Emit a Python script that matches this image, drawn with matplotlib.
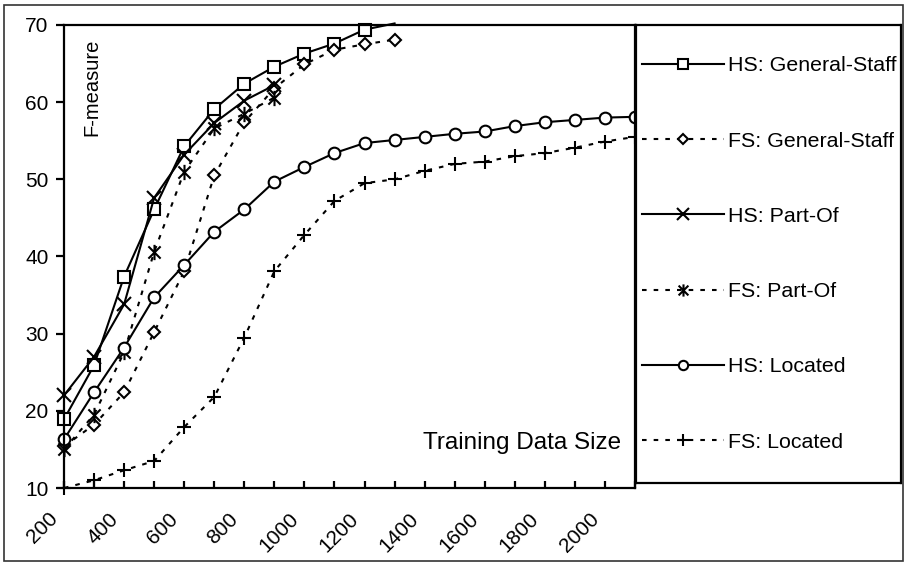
import matplotlib.pyplot as plt
import numpy as np
from matplotlib.path import Path
from matplotlib.patches import Rectangle
from matplotlib.transforms import ScaledTranslation

plt.rcParams['font.family'] = ['Liberation Sans', 'DejaVu Sans']

# training set sizes (x axis), one point every 100 examples
sizes = np.arange(200, 2200, 100)

hs_general_staff = [18.9, 25.9, 37.4, 46.1, 54.3, 59.1, 62.4, 64.6, 66.3, 67.6, 69.4, 70.2]
fs_general_staff = [15.4, 18.2, 22.4, 30.2, 38.1, 50.5, 57.4, 61.8, 64.9, 66.8, 67.5, 68.1]
hs_part_of = [22.0, 27.0, 33.8, 47.6, 53.2, 57.3, 60.2, 62.2]
fs_part_of = [15.0, 19.5, 27.6, 40.6, 51.0, 56.6, 58.5, 60.6]
hs_located = [16.3, 22.4, 28.2, 34.7, 38.9, 43.2, 46.1, 49.7, 51.6, 53.4,
              54.7, 55.1, 55.5, 55.9, 56.2, 56.9, 57.4, 57.7, 58.0, 58.1]
fs_located = [10.0, 11.0, 12.3, 13.5, 17.9, 21.8, 29.5, 38.1, 42.8, 47.2,
              49.5, 50.0, 51.1, 52.0, 52.3, 53.0, 53.4, 54.1, 54.9, 55.5]

labels = ['HS: General-Staff', 'FS: General-Staff', 'HS: Part-Of',
          'FS: Part-Of', 'HS: Located', 'FS: Located']

# asterisk marker: an x with a vertical bar through it
asterisk = Path([(-1, -1), (1, 1), (-1, 1), (1, -1), (0, -1.25), (0, 1.25)],
                [Path.MOVETO, Path.LINETO] * 3)

fig = plt.figure(figsize=(9.05, 5.63), dpi=100)
ax = fig.add_axes([64 / 905, 75 / 563, 571 / 905, 463 / 563])

solid = '-'
dotted = (0, (2.2, 3.4))
common = dict(color='black', lw=1.5, mew=1.5, mfc='white', clip_on=False)

n = len(hs_general_staff)
ax.plot(sizes[:n], hs_general_staff, ls=solid, marker='s', ms=9,
        markevery=list(range(n - 1)), label=labels[0], **common)
ax.plot(sizes[:len(fs_general_staff)], fs_general_staff, ls=dotted, marker='D',
        ms=6, label=labels[1], **common)
ax.plot(sizes[:len(hs_part_of)], hs_part_of, ls=solid, marker='x', ms=10,
        label=labels[2], **common)
ax.plot(sizes[:len(fs_part_of)], fs_part_of, ls=dotted, marker=asterisk, ms=11,
        label=labels[3], **common)
ax.plot(sizes, hs_located, ls=solid, marker='o', ms=8.4, label=labels[4], **common)
ax.plot(sizes, fs_located, ls=dotted, marker='+', ms=10, label=labels[5], **common)

ax.set_xlim(200, 2100)
ax.set_ylim(10, 70)
ax.set_yticks(np.arange(10, 71, 10))
ax.set_xticks(sizes)
ax.set_xticklabels([str(s) if s % 200 == 0 and s <= 2000 else '' for s in sizes])

for side in ax.spines.values():
    side.set_linewidth(1.6)

ax.tick_params(axis='y', direction='out', length=6, width=1.6, pad=5, labelsize=15)
ax.tick_params(axis='x', direction='in', length=5, width=1.6, pad=20, labelsize=15)
shift = ScaledTranslation(-0.09, 0, fig.dpi_scale_trans)
for lbl in ax.get_xticklabels():
    lbl.set_rotation(45)
    lbl.set_ha('right')
    lbl.set_va('center')
    lbl.set_rotation_mode('anchor')
    lbl.set_transform(lbl.get_transform() + shift)

ax.text(0.049, 0.865, 'F-measure', rotation=90, ha='center', va='center',
        fontsize=14.5, transform=ax.transAxes)
ax.text(0.9755, 0.097, 'Training Data Size', ha='right', va='center',
        fontsize=17.5, transform=ax.transAxes)

# legend sits in its own framed box to the right of the plot
lax = fig.add_axes([636 / 905, 80 / 563, 265 / 905, 458 / 563])
lax.set_xticks([])
lax.set_yticks([])
for side in lax.spines.values():
    side.set_linewidth(1.6)
handles, names = ax.get_legend_handles_labels()
lax.legend(handles, names, loc='center left', bbox_to_anchor=(0, 0.5),
           frameon=False, fontsize=15.4, handlelength=3.8, handletextpad=0.2,
           labelspacing=2.63, markerscale=0.8, borderaxespad=0, borderpad=0.3)

fig.patches.append(Rectangle((4 / 905, 2 / 563), 899 / 905, 556 / 563,
                             transform=fig.transFigure, fill=False,
                             edgecolor='#333333', lw=1.2))

fig.savefig('out.png', dpi=100)
